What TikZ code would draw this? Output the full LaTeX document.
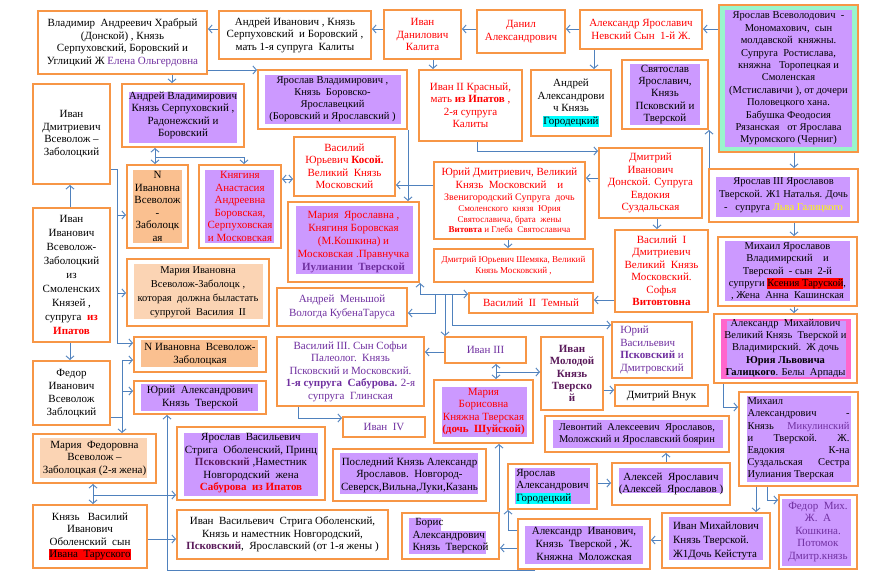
\documentclass[tikz,border=0pt]{standalone}
\usepackage{fontspec}
\setmainfont{Liberation Serif}
\usetikzlibrary{arrows.meta}
\definecolor{bord}{HTML}{F79646}
\definecolor{lnk}{HTML}{4F81BD}
\definecolor{lav}{HTML}{CC99FF}
\definecolor{mint}{HTML}{99F5CC}
\definecolor{peach}{HTML}{FAC090}
\definecolor{peachl}{HTML}{FBD4B4}
\definecolor{pinkf}{HTML}{FF66CC}
\definecolor{rtx}{HTML}{FF0000}
\definecolor{ptx}{HTML}{7030A0}
\definecolor{dpx}{HTML}{5A1A5A}
\definecolor{ylw}{HTML}{FFFF00}
\definecolor{cyn}{HTML}{00FFFF}
\newcommand\Khl[2]{{\setlength{\fboxsep}{0pt}\colorbox{#1}{\rule[-2.6pt]{0pt}{11.2pt}#2}}}
\tikzset{
 bx/.style={draw=bord, line width=2.4pt, inner sep=1pt, align=center, font=\fontsize{11}{12.5}\selectfont},
 ar/.style={draw=lnk, line width=0.9pt, -{Straight Barb[length=3.5pt,width=8pt]}},
 ar2/.style={draw=lnk, line width=0.9pt, {Straight Barb[length=3.5pt,width=8pt]}-{Straight Barb[length=3.5pt,width=8pt]}},
}
\newcommand\Kbox[7][]{\node[bx,minimum width={#4-#2-2.4},minimum height={#5-#3-2.4},#1] (#6) at ({(#2+#4)/2},{(#3+#5)/2}) {#7};}
\newcommand\Kfill[5]{\fill[#5] (#1,#2) rectangle (#3,#4);}
\begin{document}
\begin{tikzpicture}[x=1pt,y=-1pt]
\fill[white] (0,0) rectangle (879,585);
\useasboundingbox (0,0) rectangle (879,585);
% fills
\Kfill{719}{5}{858}{152}{mint}
\Kfill{725}{10}{852}{147}{lav}
\Kfill{630}{64}{700}{125}{lav}
\Kfill{265}{75}{401}{124}{lav}
\Kfill{129}{92}{237}{143}{lav}
\Kfill{133}{170}{182}{243}{peach}
\Kfill{205}{170}{274}{243}{lav}
\Kfill{134}{264}{263}{319}{peachl}
\Kfill{296}{206}{413}{274}{lav}
\Kfill{716}{177}{850}{217}{lav}
\Kfill{725}{241}{850}{301}{lav}
\Kfill{721}{319}{851}{379}{pinkf}
\Kfill{727}{321}{846}{377}{lav}
\Kfill{442}{387}{527}{437}{lav}
\Kfill{553}{420}{723}{448}{lav}
\Kfill{747}{396}{851}{482}{lav}
\Kfill{515}{468}{590}{504}{lav}
\Kfill{619}{468}{723}{493}{lav}
\Kfill{782}{499}{851}{566}{lav}
\Kfill{669}{517}{763}{560}{lav}
\Kfill{525}{526}{643}{564}{lav}
\Kfill{409}{531}{486}{554}{lav}
\Kfill{409}{518}{441}{531}{lav}
\Kfill{340}{453}{478}{494}{lav}
\Kfill{184}{433}{318}{496}{lav}
\Kfill{40}{438}{147}{478}{peachl}
\Kfill{141}{340}{258}{367}{peach}
\Kfill{141}{384}{258}{411}{lav}
% boxes
\Kbox{37}{10}{208}{75}{b1}{Владимир\ \ Андреевич Храбрый\\(Донской) , Князь\\Серпуховский, Боровский и\\Углицкий Ж {\color{ptx}Елена Ольгердовна}}
\Kbox{218}{10}{372}{60}{b2}{Андрей Иванович , Князь\\Серпуховский\ \ и Боровский ,\\мать 1-я супруга\ \ Калиты}
\Kbox[text=rtx]{383}{9}{462}{60}{b3}{Иван\\Данилович\\Калита}
\Kbox[text=rtx]{476}{9}{566}{54}{b4}{Данил\\Александрович}
\Kbox[text=rtx]{579}{9}{703}{50}{b5}{Александр Ярославич\\Невский Сын\ \ 1-й Ж.}
\Kbox[font=\fontsize{10.5}{12.4}\selectfont]{718}{4}{859}{153}{b6}{Ярослав Всеволодович\ \ -\\Мономахович,\ \ сын\\молдавской\ \ княжны.\\Супруга\ \ Ростислава,\\княжна\ \ \ Торопецкая и\\Смоленская\\(Мстиславичи ), от дочери\\Половецкого хана.\\Бабушка Феодосия\\Рязанская\ \ \ от Ярослава\\Муромского (Черниг)}
\Kbox[font=\fontsize{11}{12.2}\selectfont]{621}{59}{709}{130}{b7}{Святослав\\Ярославич,\\Князь\\Псковский и\\Тверской}
\Kbox{530}{69}{612}{137}{b8}{Андрей\\Александрови\\ч Князь\\\Khl{cyn}{Городецкий}}
\Kbox[text=rtx]{418}{69}{523}{142}{b9}{Иван II Красный,\\мать \textbf{из Ипатов} ,\\2-я супруга\\Калиты}
\Kbox[font=\fontsize{10.5}{12}\selectfont]{257}{69}{408}{130}{b10}{Ярослав Владимирович ,\\Князь\ \ Боровско-\\Ярославецкий\\(Боровский и Ярославский )}
\Kbox{121}{83}{245}{148}{b11}{Андрей Владимирович\\Князь Серпуховский ,\\Радонежский и\\Боровский}
\Kbox{32}{83}{111}{185}{b12}{Иван\\Дмитриевич\\Всеволож –\\Заболоцкий}
\Kbox{126}{164}{189}{249}{b13}{N\\Ивановна\\Всеволож\\-\\Заболоцк\\ая}
\Kbox[text=rtx]{198}{164}{282}{249}{b14}{Княгиня\\Анастасия\\Андреевна\\Боровская,\\Серпуховская\\и Московская}
\Kbox[font=\fontsize{11}{14}\selectfont]{32}{207}{111}{343}{b15}{Иван\\Иванович\\Всеволож-\\Заболоцкий\\из\\Смоленских\\Князей ,\\супруга\ \ {\color{rtx}\bfseries из}\\{\color{rtx}\bfseries Ипатов}}
\Kbox[font=\fontsize{10.5}{14}\selectfont]{126}{258}{270}{327}{b16}{Мария Ивановна\\Всеволож-Заболоцк ,\\которая\ \ должна быластать\\супругой\ \ Василия\ \ II}
\Kbox[text=ptx,font=\fontsize{11}{14}\selectfont]{276}{287}{408}{327}{b17}{Андрей\ \ Меньшой\\Вологда КубенаТаруса}
\Kbox[text=rtx]{293}{136}{396}{197}{b18}{Василий\\Юрьевич \textbf{Косой.}\\Великий\ \ Князь\\Московский}
\Kbox[text=rtx,font=\fontsize{11}{13}\selectfont]{287}{201}{420}{283}{b19}{Мария\ \ Ярославна ,\\Княгиня Боровская\\(М.Кошкина) и\\Московская .Правнучка\\{\color{ptx}\bfseries Иулиании\ \ Тверской}}
\Kbox[text=rtx]{433}{161}{586}{240}{b20}{Юрий Дмитриевич, Великий\\Князь\ \ Московский\ \ \ \ и\\{\fontsize{10}{11}\selectfont Звенигородский Супруга\ \ дочь}\\[-1.5pt]{\fontsize{9}{10}\selectfont Смоленского\ \ князя\ \ Юрия}\\[-2pt]{\fontsize{9}{10}\selectfont Святославича, брата\ \ жены}\\[-2pt]{\fontsize{9}{10}\selectfont\textbf{Витовта} и Глеба\ \ Святославича}}
\Kbox[text=rtx,font=\fontsize{9}{11}\selectfont]{433}{248}{594}{283}{b21}{Дмитрий Юрьевич Шемяка, Великий\\Князь Московский ,}
\Kbox[text=rtx]{598}{147}{703}{219}{b22}{Дмитрий\\Иванович\\Донской. Супруга\\Евдокия\\Суздальская}
\Kbox[text=rtx]{614}{229}{709}{313}{b23}{Василий\ \ I\\Дмитриевич\\Великий\ \ Князь\\Московский.\\Софья\\\textbf{Витовтовна}}
\Kbox[font=\fontsize{10.5}{13}\selectfont]{708}{168}{859}{223}{b24}{Ярослав III Ярославов\\Тверской. Ж1 Наталья. Дочь\\-\ \ \ супруга {\color{ylw}Льва Галицкого}}
\Kbox[font=\fontsize{10.5}{12.2}\selectfont]{717}{236}{858}{307}{b25}{Михаил Ярославов\\Владимирский\ \ \ \ и\\Тверской\ \ - сын\ \ 2-й\\супруги \Khl{rtx}{Ксения Таруской},\\, Жена\ \ Анна\ \ Кашинская}
\Kbox[font=\fontsize{10.5}{12.2}\selectfont]{713}{313}{858}{384}{b26}{Александр\ \ Михайлович\\Великий Князь\ \ Тверской и\\Владимирский.\ \ Ж дочь\\\textbf{Юрия Львовича}\\\textbf{Галицкого}. Белы\ \ Арпады}
\Kbox[text=rtx]{468}{292}{594}{314}{b27}{Василий\ \ II\ \ Темный}
\Kbox[text=ptx,align=left]{611}{321}{693}{379}{b28}{Юрий\\Васильевич\\\textbf{Псковский} и\\Дмитровский}
\Kbox[text=ptx]{444}{336}{527}{364}{b29}{Иван III}
\Kbox[text=ptx]{276}{336}{425}{407}{b30}{Василий III. Сын Софьи\\Палеолог.\ \ Князь\\Псковский и Московский.\\\textbf{1-я супруга\ \ Сабурова.} 2-я\\супруга\ \ Глинская}
\Kbox[text=ptx]{342}{416}{426}{438}{b31}{Иван\ \ IV}
\Kbox[text=dpx,font=\bfseries\fontsize{11}{12.3}\selectfont]{540}{336}{604}{411}{b32}{Иван\\Молодой\\Князь\\Тверско\\й}
\Kbox[text=rtx]{433}{379}{534}{444}{b33}{Мария\\Борисовна\\Княжна Тверская\\\textbf{(дочь\ \ Шуйской)}}
\Kbox{614}{384}{709}{407}{b34}{Дмитрий Внук}
\Kbox[font=\fontsize{10.5}{12.5}\selectfont]{544}{415}{730}{453}{b35}{Левонтий\ \ Алексеевич\ \ Ярославов,\\Моложский и Ярославский боярин}
\Kbox[align=left,font=\fontsize{10.5}{12.2}\selectfont]{738}{391}{859}{487}{b36}{\hbox to 102pt{Михаил\hfil}\\\hbox to 102pt{Александрович\hfill-}\\\hbox to 102pt{Князь\hfill{\color{ptx}Микулинский}}\\\hbox to 102pt{и\hfill Тверской.\hfill Ж.}\\\hbox to 102pt{Евдокия\hfill К-на}\\\hbox to 102pt{Суздальская\hfill Сестра}\\\hbox to 102pt{Иулиания Тверская\hfil}}
\Kbox[align=left]{507}{463}{598}{510}{b37}{Ярослав\\Александрович\\\Khl{cyn}{Городецкий}}
\Kbox{611}{462}{731}{506}{b38}{Алексей\ \ Ярославич\\(Алексей\ \ Ярославов )}
\Kbox[text=ptx]{778}{494}{858}{570}{b39}{Федор\ \ Мих.\\Ж.\ \ А\\Кошкина.\\Потомок\\Дмитр.князь}
\Kbox[align=left,font=\fontsize{11}{14}\selectfont]{661}{512}{771}{569}{b40}{Иван Михайлович\\Князь Тверской.\\Ж1Дочь Кейстута}
\Kbox[font=\fontsize{11}{13}\selectfont]{517}{518}{651}{570}{b41}{Александр\ \ Иванович,\\Князь\ \ Тверской , Ж.\\Княжна\ \ Моложская}
\Kbox[align=left]{401}{512}{500}{560}{b42}{\ Борис\\Александрович\\Князь\ \ Тверской}
\Kbox{332}{448}{487}{502}{b43}{Последний Князь Александр\\Ярославов.\ \ Новгород-\\Северск,Вильна,Луки,Казань}
\Kbox{176}{426}{326}{501}{b44}{Ярослав\ \ Васильевич\\Стрига\ \ Оболенский, Принц\\{\color{dpx}\bfseries Псковский} ,Наместник\\Новгородский\ \ жена\\{\color{rtx}\bfseries Сабурова\ \ из Ипатов}}
\Kbox{176}{509}{389}{560}{b45}{Иван\ \ Васильевич\ \ Стрига Оболенский,\\Князь и наместник Новгородский,\\{\color{dpx}\bfseries Псковский},\ \ Ярославский (от 1-я жены )}
\Kbox[font=\fontsize{11}{12.2}\selectfont]{32}{504}{148}{569}{b46}{Князь\ \ \ Василий\\Иванович\\Оболенский\ \ сын\\\Khl{rtx}{Ивана\ \ Таруского}}
\Kbox{32}{433}{157}{484}{b47}{Мария\ \ Федоровна\\Всеволож –\\Заболоцкая (2-я жена)}
\Kbox[font=\fontsize{11}{13}\selectfont]{32}{360}{111}{426}{b48}{Федор\\Иванович\\Всеволож\\Заблоцкий}
\Kbox{133}{336}{267}{373}{b49}{N Ивановна\ \ Всеволож-\\Заболоцкая}
\Kbox{133}{380}{267}{415}{b50}{Юрий\ \ Александрович\\Князь\ \ Тверской}
% junction coordinates
\coordinate (j1) at (93,495);
\coordinate (j2) at (122,417);
\coordinate (j3) at (122,391);
\coordinate (j4) at (117,215);
\coordinate (j5) at (117,293);
\coordinate (j6) at (155,157);
\coordinate (j7) at (435,294);
\coordinate (j8) at (445,294);
\coordinate (j9) at (452,294);
\coordinate (j10) at (496,372);
% connectors
\draw[ar] (b2.west |- 0,29) -- (b1.east |- 0,29);
\draw[ar] (b3.west |- 0,29) -- (b2.east |- 0,29);
\draw[ar] (b4.west |- 0,29) -- (b3.east |- 0,29);
\draw[ar] (b5.west |- 0,29) -- (b4.east |- 0,29);
\draw[ar] (b6.west |- 0,29) -- (b5.east |- 0,29);
\draw[ar] (b1.south -| 172,0) -- (b11.north -| 172,0);
\draw[ar] (b1.east |- 0,70) -- (b10.west |- 0,70);
\draw[ar] (b3.south -| 433,0) -- (b9.north -| 433,0);
\draw[ar] (b5.south -| 594,0) -- (b8.north -| 594,0);
\draw[ar] (b24.north -| 709,0) -- (b7.south -| 709,0);
\draw[ar] (b6.south -| 794,0) -- (b24.north -| 794,0);
\draw[ar] (b24.south -| 794,0) -- (b25.north -| 794,0);
\draw[ar] (b25.south -| 794,0) -- (b26.north -| 794,0);
\draw[ar] (b26.south -| 723,0) |- (b36.west |- 0,407);
\draw[ar] (b36.south -| 756,0) -- (b40.north -| 756,0);
\draw[ar] (b36.south -| 767,0) |- (b39.west |- 0,500);
\draw[ar] (b40.west |- 0,540) -- (b41.east |- 0,540);
\draw[ar] (b41.west |- 0,548) -- (b42.east |- 0,548);
\draw[ar] (b41.west |- 0,530) -| (b37.south -| 508,0);
\draw[ar] (b37.east |- 0,483) -- (b38.west |- 0,483);
\draw[ar] (b38.north -| 666,0) -- (b35.south -| 666,0);
\draw[ar] (b42.north -| 499,0) -- (b33.south -| 499,0);
\draw[ar] (b41.south -| 535,0) -| (b50.south -| 167,0);
\draw[ar] (b46.east |- 0,539) -- (b45.west |- 0,539);
\draw[ar2] (b47.south -| 93,0) -- (b46.north -| 93,0);
\draw[ar] (j1) -- (b44.west |- j1);
\draw[ar] (b48.east |- j2) -| (b47.north -| j2);
\draw[ar] (j2) |- (b49.west |- 0,360);
\draw[ar] (j3) -- (b50.west |- j3);
\draw[ar] (b15.south -| 70,0) -- (b48.north -| 70,0);
\draw[ar] (b15.north -| 70,0) -- (b12.south -| 70,0);
\draw[ar] (b12.east |- 0,169) -| (117,343) -- (b49.west |- 0,343);
\draw[ar] (j4) -- (b13.west |- j4);
\draw[ar] (j5) -- (b16.west |- j5);
\draw[ar2] (b11.south -| j6) -- (b13.north -| j6);
\draw[ar] (j6) -| (b14.north -| 244,0);
\draw[ar2] (b14.east |- 0,179) -- (b18.west |- 0,179);
\draw[ar] (b10.south -| 408,0) -- (b19.north -| 408,0);
\draw[ar] (b20.west |- 0,185) -- (b18.east |- 0,185);
\draw[ar] (b22.west |- 0,178) -- (b20.east |- 0,178);
\draw[ar] (b9.south -| 477,0) |- (b22.west |- 0,151);
\draw[ar] (b22.south -| 657,0) -- (b23.north -| 657,0);
\draw[ar] (b20.south -| 508,0) -- (b21.north -| 508,0);
\draw[ar] (b23.west |- 0,300) -- (b27.east |- 0,300);
\draw[ar2] (b19.south -| 420,0) |- (b27.west |- j7);
\draw[ar] (j7) |- (b17.east |- 0,313);
\draw[ar] (j8) -- (b29.north -| j8);
\draw[ar] (j9) |- (b28.west |- 0,325);
\draw[ar] (b29.west |- 0,352) -- (b30.east |- 0,352);
\draw[ar] (b30.south -| 298,0) |- (b31.west |- 0,418);
\draw[ar2] (b29.south -| j10) -- (b33.north -| j10);
\draw[ar] (j10) -- (b32.west |- j10);
\draw[ar] (b32.east |- 0,390) -- (b34.west |- 0,390);
\end{tikzpicture}
\end{document}
